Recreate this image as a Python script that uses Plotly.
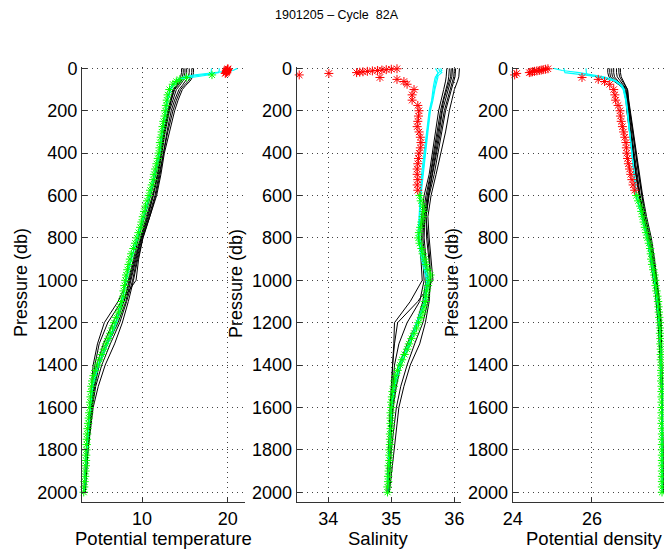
import plotly.graph_objects as go
from plotly.subplots import make_subplots

# ---- current cycle 82A ----
pres = [2, 4, 6, 8, 10, 12, 14, 16, 18, 20, 24, 31, 43, 52, 62,
        75, 100, 125, 150, 175, 200, 225, 250, 275, 300,
        325, 350, 375, 400, 425, 450, 475, 500, 525, 550,
        575, 600, 625, 650, 675, 700, 725, 750, 775, 800,
        825, 850, 875, 900, 925, 950, 975, 1000, 1025, 1050,
        1075, 1100, 1125, 1150, 1175, 1200, 1225, 1250, 1275, 1300,
        1325, 1350, 1375, 1400, 1425, 1450, 1475, 1500, 1525, 1550,
        1575, 1600, 1625, 1650, 1675, 1700, 1725, 1750, 1775, 1800,
        1825, 1850, 1875, 1900, 1925, 1950, 1975, 2000]

temp = [20.0, 20.0, 19.95, 19.95, 19.9, 19.9, 19.85, 19.85, 19.8, 19.8, 19.7, 18.15, 15.2, 14.4, 14.0,
        13.6, 13.2, 13.0, 12.9, 12.8, 12.7, 12.65, 12.5, 12.4, 12.3,
        12.2, 12.1, 12.05, 11.95, 11.85, 11.7, 11.55, 11.4, 11.3, 11.15,
        10.95, 10.8, 10.6, 10.4, 10.25, 10.1, 9.95, 9.8, 9.6, 9.4,
        9.2, 9.0, 8.75, 8.6, 8.45, 8.3, 8.15, 8.05, 7.95, 7.85,
        7.8, 7.6, 7.45, 7.25, 7.0, 6.75, 6.55, 6.3, 6.05, 5.8,
        5.55, 5.3, 5.05, 4.8, 4.55, 4.35, 4.2, 4.1, 4.05, 4.0,
        3.95, 3.9, 3.85, 3.8, 3.72, 3.65, 3.6, 3.57, 3.54, 3.5,
        3.48, 3.46, 3.44, 3.4, 3.36, 3.3, 3.25, 3.2]

psal = [35.09, 35.0, 34.92, 34.85, 34.78, 34.7, 34.62, 34.55, 34.5, 34.45, 34.01, 33.54, 34.82, 35.09, 35.2,
        35.25, 35.36, 35.33, 35.33, 35.42, 35.44, 35.43, 35.42, 35.41, 35.44,
        35.46, 35.47, 35.46, 35.44, 35.43, 35.42, 35.41, 35.41, 35.42, 35.41,
        35.42, 35.45, 35.47, 35.5, 35.51, 35.5, 35.48, 35.46, 35.44, 35.43,
        35.45, 35.48, 35.5, 35.53, 35.55, 35.58, 35.62, 35.6, 35.58, 35.56,
        35.55, 35.54, 35.52, 35.5, 35.47, 35.43, 35.4, 35.36, 35.32, 35.28,
        35.25, 35.21, 35.17, 35.14, 35.1, 35.07, 35.05, 35.04, 35.02, 35.01,
        35.0, 35.0, 34.99, 34.99, 34.99, 34.99, 34.98, 34.98, 34.98, 34.97,
        34.97, 34.97, 34.96, 34.96, 34.95, 34.95, 34.94, 34.94]

sigma = [24.89, 24.83, 24.77, 24.72, 24.67, 24.61, 24.55, 24.5, 24.46, 24.42, 24.1, 24.05, 25.75, 26.16, 26.32,
         26.45, 26.55, 26.58, 26.6, 26.66, 26.71, 26.72, 26.74, 26.77, 26.8,
         26.83, 26.86, 26.87, 26.88, 26.9, 26.92, 26.95, 26.98, 27.01, 27.04,
         27.08, 27.12, 27.17, 27.22, 27.25, 27.28, 27.31, 27.34, 27.37, 27.4,
         27.44, 27.47, 27.49, 27.5, 27.52, 27.55, 27.58, 27.6, 27.61, 27.63,
         27.65, 27.67, 27.68, 27.69, 27.7, 27.71, 27.72, 27.72, 27.73, 27.73,
         27.74, 27.74, 27.74, 27.75, 27.75, 27.75, 27.75, 27.76, 27.76, 27.76,
         27.76, 27.76, 27.76, 27.76, 27.76, 27.77, 27.77, 27.77, 27.77, 27.77,
         27.77, 27.77, 27.77, 27.77, 27.77, 27.77, 27.77, 27.77]

# QC: levels shallower than these pressures were flagged bad (red)
TEMP_BAD_ABOVE = 25
PSAL_BAD_ABOVE = 590

# ---- older cycles (black) ----
hist_pres = [0, 20, 40, 60, 80, 100, 150, 200, 300, 400, 500, 600,
             700, 800, 900, 1000, 1100, 1200, 1300, 1400, 1500, 1600, 1800, 2000]

hist_temp = [
    [15.0, 15.0, 14.9, 14.6, 14.2, 13.8, 13.4, 13.1, 12.6, 12.2, 11.8, 11.2, 10.5, 9.8, 9.1, 8.5, 7.9, 7.0, 5.8, 4.9, 4.4, 4.1, 3.6, 3.3],
    [15.5, 15.5, 15.4, 15.1, 14.7, 14.3, 13.8, 13.4, 12.9, 12.5, 12.0, 11.5, 10.8, 10.0, 9.4, 8.9, 8.2, 7.4, 6.3, 5.3, 4.6, 4.2, 3.7, 3.3],
    [16.0, 16.0, 15.9, 15.6, 15.1, 14.7, 14.2, 13.8, 13.2, 12.6, 12.2, 11.7, 10.9, 10.1, 9.6, 9.3, 7.6, 6.0, 5.0, 4.5, 4.2, 4.0, 3.6, 3.3],
    [14.6, 14.6, 14.5, 14.3, 14.0, 13.6, 13.3, 13.0, 12.5, 12.1, 11.6, 11.0, 10.3, 9.6, 9.0, 8.4, 7.2, 5.6, 4.8, 4.3, 4.1, 3.9, 3.5, 3.2],
    [15.8, 15.8, 15.7, 15.4, 14.9, 14.5, 14.0, 13.6, 13.0, 12.5, 12.1, 11.6, 10.9, 10.1, 9.5, 9.0, 8.4, 7.7, 6.8, 5.7, 4.9, 4.3, 3.7, 3.4],
    [15.2, 15.2, 15.1, 14.8, 14.4, 14.0, 13.6, 13.2, 12.7, 12.3, 11.9, 11.3, 10.6, 9.9, 9.2, 8.6, 7.9, 6.6, 5.5, 4.7, 4.3, 4.0, 3.6, 3.3],
    [14.8, 14.8, 14.7, 14.5, 14.1, 13.7, 13.4, 13.1, 12.6, 12.3, 11.8, 11.3, 10.7, 9.9, 9.3, 8.7, 8.1, 7.2, 6.0, 5.0, 4.5, 4.1, 3.6, 3.3],
]

hist_psal = [
    [35.95, 35.95, 35.94, 35.92, 35.9, 35.88, 35.83, 35.8, 35.74, 35.69, 35.63, 35.57, 35.52, 35.5, 35.53, 35.55, 35.5, 35.4, 35.25, 35.12, 35.06, 35.02, 34.98, 34.95],
    [36.02, 36.02, 36.01, 35.99, 35.97, 35.95, 35.9, 35.86, 35.8, 35.74, 35.68, 35.6, 35.55, 35.56, 35.6, 35.63, 35.58, 35.5, 35.37, 35.25, 35.15, 35.08, 35.0, 34.96],
    [36.08, 36.08, 36.07, 36.05, 36.02, 36.0, 35.96, 35.92, 35.86, 35.79, 35.71, 35.63, 35.58, 35.6, 35.63, 35.66, 35.42, 35.1, 35.05, 35.02, 35.01, 34.99, 34.96, 34.94],
    [35.88, 35.88, 35.87, 35.86, 35.84, 35.83, 35.79, 35.75, 35.7, 35.65, 35.6, 35.52, 35.48, 35.44, 35.47, 35.49, 35.3, 35.05, 35.04, 35.02, 35.01, 34.98, 34.96, 34.93],
    [36.0, 36.0, 35.99, 35.97, 35.95, 35.93, 35.88, 35.84, 35.78, 35.72, 35.66, 35.59, 35.55, 35.58, 35.61, 35.62, 35.6, 35.54, 35.45, 35.3, 35.2, 35.12, 35.04, 34.97],
    [35.92, 35.92, 35.91, 35.9, 35.88, 35.86, 35.82, 35.78, 35.72, 35.67, 35.62, 35.55, 35.5, 35.48, 35.5, 35.52, 35.45, 35.25, 35.12, 35.05, 35.03, 35.0, 34.97, 34.95],
    [35.97, 35.97, 35.96, 35.94, 35.92, 35.9, 35.85, 35.81, 35.76, 35.7, 35.64, 35.58, 35.53, 35.52, 35.55, 35.58, 35.52, 35.42, 35.3, 35.15, 35.08, 35.03, 34.98, 34.95],
]

hist_sigma = [
    [26.55, 26.55, 26.57, 26.66, 26.78, 26.86, 26.9, 26.93, 27.0, 27.07, 27.14, 27.22, 27.31, 27.42, 27.51, 27.6, 27.66, 27.71, 27.74, 27.75, 27.76, 27.77, 27.78, 27.79],
    [26.45, 26.45, 26.47, 26.58, 26.72, 26.82, 26.87, 26.9, 26.97, 27.04, 27.11, 27.2, 27.29, 27.4, 27.49, 27.57, 27.64, 27.69, 27.72, 27.74, 27.76, 27.77, 27.78, 27.79],
    [26.4, 26.4, 26.43, 26.55, 26.7, 26.8, 26.86, 26.88, 26.95, 27.03, 27.1, 27.19, 27.28, 27.39, 27.48, 27.55, 27.68, 27.74, 27.75, 27.76, 27.77, 27.78, 27.79, 27.79],
    [26.72, 26.72, 26.74, 26.8, 26.86, 26.9, 26.93, 26.97, 27.04, 27.12, 27.19, 27.28, 27.38, 27.5, 27.58, 27.65, 27.71, 27.75, 27.76, 27.77, 27.77, 27.78, 27.79, 27.79],
    [26.5, 26.5, 26.52, 26.62, 26.75, 26.84, 26.88, 26.92, 26.98, 27.05, 27.12, 27.21, 27.3, 27.41, 27.5, 27.57, 27.62, 27.67, 27.7, 27.73, 27.75, 27.76, 27.78, 27.79],
    [26.62, 26.62, 26.64, 26.72, 26.82, 26.88, 26.91, 26.95, 27.02, 27.1, 27.17, 27.25, 27.34, 27.45, 27.54, 27.62, 27.68, 27.73, 27.75, 27.76, 27.77, 27.78, 27.79, 27.79],
    [26.68, 26.68, 26.7, 26.77, 26.85, 26.9, 26.92, 26.96, 27.03, 27.11, 27.18, 27.26, 27.35, 27.47, 27.56, 27.63, 27.69, 27.73, 27.75, 27.76, 27.77, 27.78, 27.79, 27.79],
]

# ---- recent cycles (cyan) ----
prev_pres = [0, 10, 20, 30, 40, 50, 60, 80, 100, 150, 200, 300, 400, 500,
             600, 700, 800, 900, 1000, 1100, 1200, 1300, 1400, 1500, 1600, 1800, 2000]

prev_temp = [
    [21.1, 20.6, 18.5, 16.2, 14.9, 14.2, 13.9, 13.5, 13.25, 12.9, 12.75, 12.3, 12.0, 11.45, 10.85, 10.15, 9.45, 8.7, 8.1, 7.65, 6.9, 5.9, 4.85, 4.2, 3.95, 3.55, 3.25],
    [19.0, 19.0, 18.9, 17.0, 15.3, 14.4, 14.0, 13.6, 13.3, 12.95, 12.8, 12.35, 12.05, 11.5, 10.9, 10.2, 9.5, 8.75, 8.15, 7.7, 7.0, 6.0, 4.95, 4.25, 3.95, 3.55, 3.25],
    [18.1, 18.1, 18.05, 17.9, 16.0, 14.6, 14.1, 13.65, 13.35, 13.0, 12.8, 12.35, 12.05, 11.5, 10.9, 10.2, 9.5, 8.75, 8.15, 7.7, 7.0, 6.0, 4.9, 4.2, 3.95, 3.55, 3.25],
]

prev_psal = [
    [35.78, 35.8, 35.75, 35.72, 35.74, 35.73, 35.72, 35.7, 35.69, 35.66, 35.62, 35.58, 35.54, 35.5, 35.47, 35.45, 35.44, 35.5, 35.58, 35.55, 35.43, 35.3, 35.15, 35.05, 35.0, 34.97, 34.94],
    [35.75, 35.76, 35.8, 35.76, 35.72, 35.71, 35.7, 35.69, 35.68, 35.65, 35.61, 35.57, 35.53, 35.49, 35.46, 35.45, 35.45, 35.52, 35.6, 35.53, 35.4, 35.27, 35.12, 35.04, 35.0, 34.97, 34.94],
    [35.7, 35.72, 35.74, 35.73, 35.7, 35.69, 35.68, 35.67, 35.66, 35.64, 35.6, 35.56, 35.52, 35.48, 35.46, 35.44, 35.42, 35.48, 35.56, 35.52, 35.42, 35.28, 35.13, 35.05, 35.0, 34.97, 34.94],
]

prev_sigma = [
    [25.04, 25.25, 25.68, 26.05, 26.3, 26.5, 26.62, 26.76, 26.82, 26.87, 26.9, 26.96, 27.02, 27.07, 27.13, 27.27, 27.4, 27.5, 27.59, 27.65, 27.7, 27.73, 27.75, 27.76, 27.76, 27.77, 27.78],
    [25.3, 25.3, 25.32, 25.8, 26.2, 26.45, 26.6, 26.74, 26.8, 26.86, 26.9, 26.95, 27.01, 27.06, 27.12, 27.26, 27.39, 27.49, 27.58, 27.65, 27.7, 27.73, 27.75, 27.76, 27.76, 27.77, 27.78],
    [25.85, 25.85, 25.86, 25.88, 26.1, 26.4, 26.58, 26.72, 26.79, 26.85, 26.89, 26.95, 27.01, 27.06, 27.12, 27.26, 27.39, 27.49, 27.58, 27.65, 27.7, 27.73, 27.75, 27.76, 27.76, 27.77, 27.78],
]

x_ranges = [[3, 22], [33.5, 36.1], [24, 27.82]]
x_ticks = [[10, 20], [34, 35, 36], [24, 26, 28]]
x_titles = ["Potential temperature", "Salinity", "Potential density"]
y_ticks = [0, 200, 400, 600, 800, 1000, 1200, 1400, 1600, 1800, 2000]

W, H = 672, 553          # browser window
PAGE = 8                 # html body margin around the plot div
FIG_W, FIG_H = 664 - PAGE, H - PAGE   # part of the window that actually shows
FONT = "Liberation Sans, Arial, Helvetica, sans-serif"


def px(v):
    # window pixel -> paper x
    return (v - PAGE) / FIG_W


def py(v):
    # window pixel -> paper y
    return 1 - (v - PAGE) / FIG_H


fig = make_subplots(rows=1, cols=3)

panels = [
    (hist_temp, prev_temp, temp, TEMP_BAD_ABOVE),
    (hist_psal, prev_psal, psal, PSAL_BAD_ABOVE),
    (hist_sigma, prev_sigma, sigma, PSAL_BAD_ABOVE),
]

for col, (hist, prev, cur, bad_above) in enumerate(panels, start=1):
    for prof in hist:
        fig.add_trace(go.Scatter(x=prof, y=hist_pres, mode="lines",
                                 line=dict(color="black", width=1),
                                 showlegend=False, hoverinfo="skip"), row=1, col=col)
    for prof in prev:
        fig.add_trace(go.Scatter(x=prof, y=prev_pres, mode="lines",
                                 line=dict(color="#00ffff", width=1.2),
                                 showlegend=False, hoverinfo="skip"), row=1, col=col)
    good = [i for i, p in enumerate(pres) if p >= bad_above]
    bad = [i for i, p in enumerate(pres) if p < bad_above]
    # open symbols take their stroke colour from marker.color
    fig.add_trace(go.Scatter(x=[cur[i] for i in good], y=[pres[i] for i in good],
                             mode="markers", cliponaxis=False,
                             marker=dict(symbol="asterisk-open", size=7, color="#00ff00",
                                         line=dict(color="#00ff00", width=1)),
                             showlegend=False), row=1, col=col)
    fig.add_trace(go.Scatter(x=[cur[i] for i in bad], y=[pres[i] for i in bad],
                             mode="markers", cliponaxis=False,
                             marker=dict(symbol="asterisk-open", size=7.5, color="#ff0000",
                                         line=dict(color="#ff0000", width=1)),
                             showlegend=False), row=1, col=col)

# axes placed to match the original pixel layout
x_domains = [[px(82), px(245)], [px(296.7), px(460.7)], [px(512.7), 1.0]]
y_domain = [py(502), py(67.3)]

axis_style = dict(showline=True, linecolor="#333333", linewidth=1,
                  ticks="inside", ticklen=5, tickcolor="#333333",
                  showgrid=True, gridcolor="#444444", gridwidth=1, griddash="1px,4px",
                  zeroline=False, automargin=False,
                  tickfont=dict(size=18, color="black", family=FONT))

for i in range(3):
    fig.update_xaxes(range=x_ranges[i], tickvals=x_ticks[i], domain=x_domains[i],
                     **axis_style, row=1, col=i + 1)
    fig.update_yaxes(range=[2046, -5], tickvals=y_ticks, domain=y_domain,
                     **axis_style, row=1, col=i + 1)

annotations = [
    dict(text="1901205 \u2013 Cycle \u00a082A", x=px(336.5), y=py(15),
         font=dict(size=12.5)),
    dict(text=x_titles[0], x=px(163.5), y=py(538), font=dict(size=18.5)),
    dict(text=x_titles[1], x=px(378), y=py(538), font=dict(size=18.5)),
    dict(text=x_titles[2], x=px(594), y=py(538), font=dict(size=18.5)),
]
for xc in [21, 236, 452]:
    annotations.append(dict(text="Pressure (db)", x=px(xc), y=py(283), textangle=-90,
                            font=dict(size=18)))

for a in annotations:
    a.update(xref="paper", yref="paper", showarrow=False,
             xanchor="center", yanchor="middle")
    a["font"] = dict(family=FONT, color="black", **a["font"])

fig.update_layout(
    template="none",
    width=FIG_W, height=FIG_H,
    margin=dict(l=0, r=0, t=0, b=0),
    paper_bgcolor="white", plot_bgcolor="white",
    font=dict(family=FONT, color="black"),
    annotations=annotations,
    showlegend=False,
)

fig.write_html("out.html")
